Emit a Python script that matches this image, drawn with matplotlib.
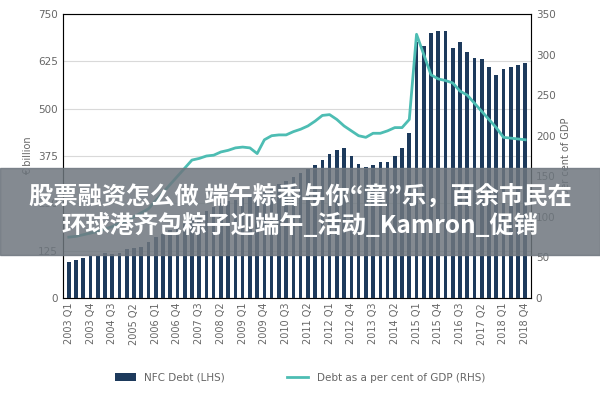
import matplotlib
matplotlib.use("Agg")
import matplotlib.pyplot as plt
import numpy as np
from matplotlib.patches import Rectangle

years = list(range(2003, 2019))
quarters = [f"{y} Q{q}" for y in years for q in range(1, 5)]
nfc_debt = [95,100,105,110, 112,118,115,120, 130,132,135,148, 160,170,180,190,
            200,210,220,230, 240,250,255,260, 265,270,275,280, 290,300,310,320,
            330,340,350,365, 380,390,395,375, 355,345,350,360, 360,375,395,435,
            675,665,700,705, 705,660,675,650, 635,630,610,590, 605,610,615,620]
debt_gdp = [75,76,78,80, 82,85,88,92, 95,100,105,110, 120,130,140,150,
            160,170,172,175, 176,180,182,185, 186,185,178,195, 200,201,201,205,
            208,212,218,225, 226,220,212,206, 200,198,203,203, 206,210,210,220,
            325,300,275,270, 268,265,255,250, 240,230,220,210, 198,197,196,195]
left_ticks = [0,125,250,375,500,625,750]
right_ticks = [0,50,100,150,200,250,300,350]

fig = plt.figure(figsize=(6,4), dpi=100)
ax = fig.add_axes([0.105, 0.255, 0.78, 0.71])
x = np.arange(len(quarters))
ax.bar(x, nfc_debt, width=0.5, color="#1d3a5c", label="NFC Debt (LHS)", zorder=2)
ax.set_ylim(0, 750); ax.set_yticks(left_ticks)
ax.set_xlim(-0.8, len(quarters)-0.2)
ax.grid(axis="y", color="#d9d9d9", lw=0.8, zorder=0)
ax.set_xticks(x[::3]); ax.set_xticklabels(quarters[::3], rotation=90, fontsize=7, color="#666")
ax.tick_params(axis="y", labelsize=7.5, colors="#666", length=0)
ax.tick_params(axis="x", length=0)
ax.set_ylabel("€ billion", fontsize=7, color="#666")
for s in ax.spines.values(): s.set_color("#999")
ax2 = ax.twinx()
ax2.plot(x, debt_gdp, color="#4dbdb3", lw=2, label="Debt as a per cent of GDP (RHS)")
ax2.set_ylim(0, 350); ax2.set_yticks(right_ticks)
ax2.tick_params(axis="y", labelsize=7.5, colors="#666", length=0)
ax2.set_ylabel("per cent of GDP", fontsize=7, color="#666")
h1, l1 = ax.get_legend_handles_labels(); h2, l2 = ax2.get_legend_handles_labels()
fig.legend(h1+h2, l1+l2, loc="lower center", ncol=2, frameon=False, fontsize=7.5,
           bbox_to_anchor=(0.5, 0.02), labelcolor="#666", columnspacing=6)
fig.patches.append(Rectangle((0, 0.3625), 1, 0.2175, transform=fig.transFigure,
                             color="#6e767e", alpha=0.85, zorder=10))
fig.text(0.5, 0.471, "股票融资怎么做 端午粽香与你“童”乐，百余市民在\n环球港齐包粽子迎端午_活动_Kamron_促销",
         ha="center", va="center", color="white", fontsize=17.5, fontweight="bold",
         family=["Noto Sans CJK SC", "Noto Sans CJK JP", "Noto Sans CJK TC", "DejaVu Sans"],
         linespacing=1.2, zorder=11)
fig.savefig("out.png")
